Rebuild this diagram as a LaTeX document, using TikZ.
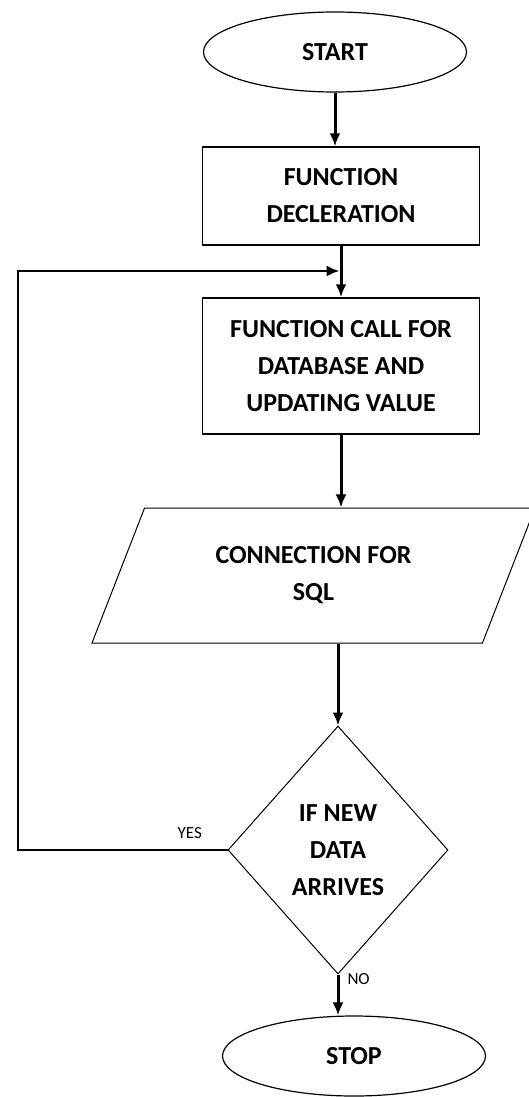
\documentclass[tikz,border=0pt]{standalone}
\usepackage{fontspec}
\setmainfont{Carlito}
\usetikzlibrary{arrows.meta,shapes.geometric}

\begin{document}
\begin{tikzpicture}[x=1pt,y=1pt,>={Latex[length=13pt,width=11pt]},node distance=144pt,
    every node/.style={font=\bfseries\fontsize{26}{37}\selectfont,align=center},
    terminal/.style={ellipse,draw,line width=1.2pt,minimum width=263pt,minimum height=80pt},
    block/.style={rectangle,draw,line width=1.4pt,minimum width=277pt},
    io/.style={trapezium,trapezium left angle=50.6,trapezium right angle=129.4,
               trapezium stretches body,draw,line width=1pt,
               minimum width=443pt,minimum height=135pt},
    decision/.style={diamond,draw,line width=1pt,inner sep=0pt,
                     minimum width=220pt,minimum height=248pt},
    flow/.style={->,line width=3pt},
    loopback/.style={->,line width=2.2pt,shorten >=1.5pt},
    answer/.style={font=\fontsize{17}{20}\selectfont,inner sep=2pt}]
  % \useasboundingbox keeps the page at the size of the reference
  \useasboundingbox (0,0) rectangle (529,-1097);

  \node[terminal] (start) at (335,-52)                          {START};
  \node[block,minimum height=98pt]  (decl) [below of=start,xshift=6pt]   {FUNCTION\\DECLERATION};
  \node[block,minimum height=136pt] (call) [below of=decl,node distance=170pt]
        {FUNCTION CALL FOR\\DATABASE AND\\UPDATING VALUE};
  \node[io]       (sql)  [below of=call,node distance=209.5pt,xshift=-27.5pt] {CONNECTION FOR\\SQL};
  \node[decision] (if)   [below of=sql,node distance=274.5pt,xshift=24.5pt]  {IF NEW\\DATA\\ARRIVES};
  \node[terminal] (stop) [below of=if,node distance=206pt,xshift=16pt]       {STOP};

  \coordinate (corner) at (18,-271);

  \draw[flow] (start.south) -- (start.south |- decl.north);
  \draw[flow] (decl) -- (call);
  \draw[flow] (call.south) -- (call.south |- sql.north);
  \draw[flow] (if.north |- sql.south) -- (if.north);
  \draw[flow] (if.south) -- node[answer,right=6pt,pos=0.12] {NO} (if.south |- stop.north);
  \draw[loopback] (if.west) -| node[answer,above=8pt,pos=0.09] {YES} (corner)
                  -- (decl.south |- corner);
\end{tikzpicture}
\end{document}
